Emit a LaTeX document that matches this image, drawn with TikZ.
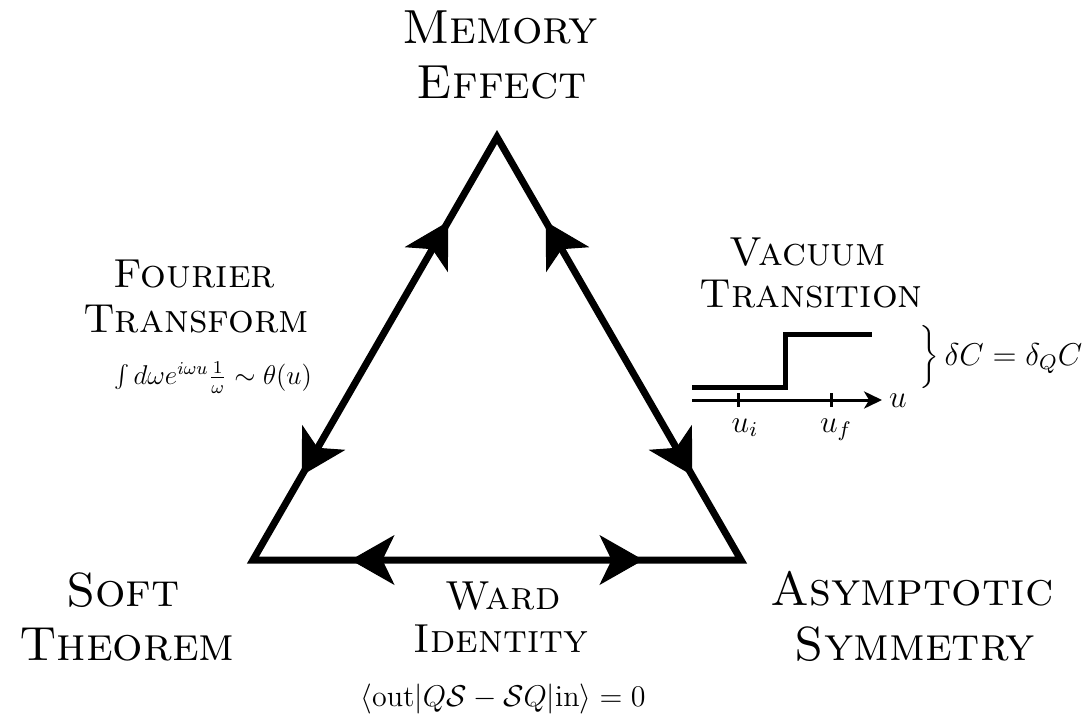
\documentclass[tikz,border=0pt]{standalone}
\usepackage{graphicx}
\usetikzlibrary{arrows.meta,decorations.markings}
\tikzset{
  bigtip/.tip={Stealth[length=16.7pt,width=19pt,inset=4.6pt]},
  smalltip/.tip={Stealth[length=6.8pt,width=6.5pt,inset=1.9pt]},
  tri/.style={line width=2.66pt, line join=miter},
  twoway/.style={decorate,decoration={markings,
     mark=at position 0.2 with {\arrowreversed{bigtip}},
     mark=at position 0.8 with {\arrow{bigtip}}}},
  biglabel/.style={font=\fontsize{18.2}{22}\selectfont\scshape, inner sep=0pt, anchor=base},
  midlabel/.style={font=\fontsize{15.4}{18}\selectfont\scshape, inner sep=0pt, anchor=base},
  eqlabel/.style={font=\large, inner sep=0pt, anchor=base},
  stepline/.style={line width=1.9pt, line join=miter},
  axisline/.style={line width=1.14pt, -smalltip},
  tickline/.style={line width=1.14pt},
}
\begin{document}
\begin{tikzpicture}[x=0.38pt,y=-0.38pt]
\useasboundingbox (0,0) rectangle (1092,715);
% triangle vertices
\coordinate (A) at (497,137);
\coordinate (B) at (253,560);
\coordinate (C) at (741,560);
\draw[tri] (A) -- (B) -- (C) -- cycle;
\path[twoway] (B) -- (A);
\path[twoway] (C) -- (A);
\path[twoway] (B) -- (C);
% corner labels
\node[biglabel] (mem1) at (500,43) {Memory};
\node[biglabel] (mem2) at (502,98) {Effect};
\node[biglabel] (soft1) at (123,606) {Soft};
\node[biglabel] (soft2) at (127,660) {Theorem};
\node[biglabel] (asy1) at (912,605) {Asymptotic};
\node[biglabel] (asy2) at (915,660) {Symmetry};
% side labels
\node[midlabel] (four1) at (194,287) {Fourier};
\node[midlabel] (four2) at (196,332) {Transform};
\node[eqlabel] (foureq) at (213,384) {\scalebox{0.86}{$\int d\omega e^{i\omega u}\frac{1}{\omega}\sim\theta(u)$}};
\node[midlabel] (ward1) at (503,609) {Ward};
\node[midlabel] (ward2) at (501,652) {Identity};
\node[eqlabel] (wardeq) at (503,706) {\scalebox{0.95}{$\langle \mathrm{out}|Q\mathcal{S}-\mathcal{S}Q|\mathrm{in}\rangle = 0$}};
\node[midlabel] (vac1) at (808,265) {Vacuum};
\node[midlabel] (vac2) at (811,307) {Transition};
% step graph
\coordinate (s0) at (692,387);
\coordinate (s1) at (785,387);
\coordinate (s2) at (785,334);
\coordinate (s3) at (872,334);
\draw[stepline] (s0) -- (s1) -- (s2) -- (s3);
\coordinate (ax0) at (692,400);
\coordinate (ax1) at (882,400);
\draw[axisline] (ax0) -- (ax1);
\draw[tickline] (738,393) -- (738,407);
\draw[tickline] (831,393) -- (831,407);
\node[eqlabel] (ui) at (745,432) {$u_i$};
\node[eqlabel] (uf) at (836,432) {$u_f$};
\node[eqlabel] (ulab) at (898,407) {$u$};
\node[eqlabel, anchor=base west] (dc) at (919,365) {$\bigg\}\,\delta C=\delta_Q C$};
\end{tikzpicture}
\end{document}
